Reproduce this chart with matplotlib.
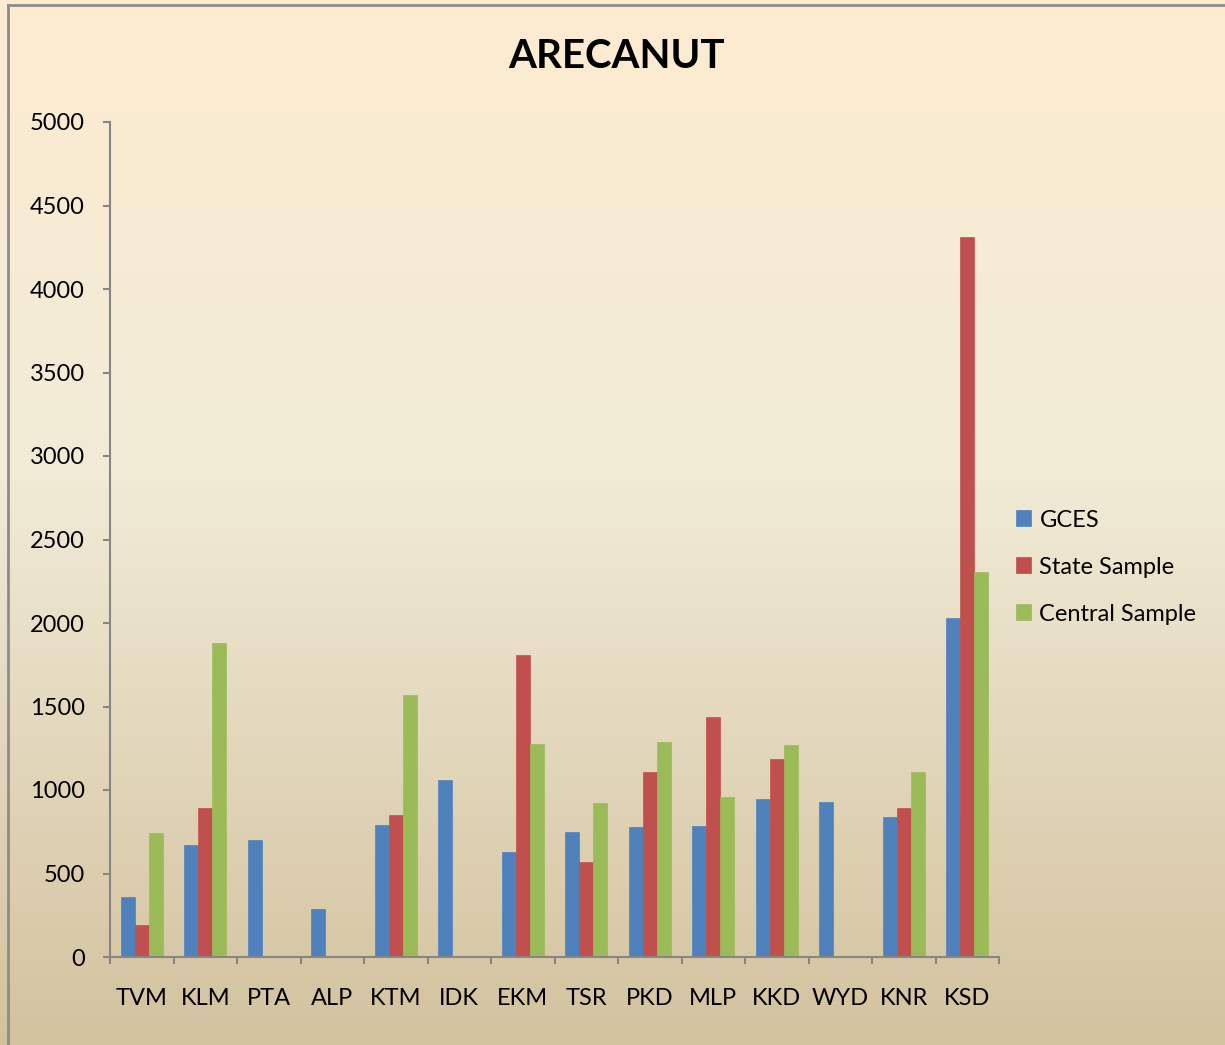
import matplotlib
matplotlib.use("Agg")
import matplotlib.pyplot as plt
import numpy as np
from matplotlib.colors import LinearSegmentedColormap

# district codes and the three series
districts = ["TVM", "KLM", "PTA", "ALP", "KTM", "IDK", "EKM",
             "TSR", "PKD", "MLP", "KKD", "WYD", "KNR", "KSD"]
gces = [360, 673, 699, 290, 791, 1061, 627, 751, 781, 785, 949, 929, 837, 2029]
state_sample = [190, 895, 0, 0, 849, 0, 1806, 566, 1109, 1436, 1186, 0, 895, 4312]
central_sample = [745, 1880, 0, 0, 1568, 0, 1274, 923, 1285, 957, 1268, 0, 1107, 2305]

series = [("GCES", gces, "#4F81BD"),
          ("State Sample", state_sample, "#C0504D"),
          ("Central Sample", central_sample, "#9BBB59")]

plt.rcParams['font.family'] = ['Lato', 'DejaVu Sans']

fig = plt.figure(figsize=(12.25, 10.45), dpi=100)

# background gradient: peach at top, pale cream in the middle, tan at bottom
bg = fig.add_axes([0, 0, 1, 1], zorder=0)
cmap = LinearSegmentedColormap.from_list(
    "bg", [(0.0, "#FDEBD0"), (0.45, "#F1EBD7"), (1.0, "#D3C29E")])
grad = np.linspace(0, 1, 256).reshape(-1, 1)
bg.imshow(grad, aspect="auto", cmap=cmap, extent=[0, 1, 0, 1], origin="upper")
bg.set_xlim(0, 1)
bg.set_ylim(0, 1)
bg.axis("off")
# outer frame, left and top edges visible
bg.plot([8 / 1225, 8 / 1225], [0, 1 - 5 / 1045], color="#8C8C8C", lw=2)
bg.plot([8 / 1225, 1], [1 - 5 / 1045, 1 - 5 / 1045], color="#8C8C8C", lw=2)

ax = fig.add_axes([110 / 1225, 1 - 957 / 1045, 889 / 1225, 835 / 1045], zorder=1)
ax.set_facecolor("none")

x = np.arange(len(districts))
w = 0.22
for i, (name, vals, col) in enumerate(series):
    ax.bar(x + (i - 1) * w, vals, width=w, color=col, label=name,
           edgecolor=col, linewidth=0.5)

ax.set_xlim(-0.5, len(districts) - 0.5)
ax.set_ylim(0, 5000)
ax.set_yticks(np.arange(0, 5001, 500))

# category boundaries get the tick marks, labels sit at the centres
ax.set_xticks(np.arange(-0.5, len(districts), 1.0))
ax.set_xticklabels([])
ax.set_xticks(x, minor=True)
ax.set_xticklabels(districts, minor=True)
ax.tick_params(axis="x", which="major", length=5, width=1.5, color="#868686")
ax.tick_params(axis="x", which="minor", length=0, pad=22, labelsize=17)
ax.tick_params(axis="y", length=5, width=1.5, color="#868686", pad=13, labelsize=17)

for s in ["top", "right"]:
    ax.spines[s].set_visible(False)
for s in ["left", "bottom"]:
    ax.spines[s].set_color("#868686")
    ax.spines[s].set_linewidth(1.5)

fig.text(617 / 1225, 1 - 56 / 1045, "ARECANUT", ha="center", va="center",
         fontsize=29, fontweight="bold")

ax.legend(loc="center left", bbox_to_anchor=(0.995, 0.467), frameon=False,
          fontsize=17, handlelength=0.65, handleheight=0.65, handletextpad=0.35,
          labelspacing=1.1)

fig.savefig("out.png", dpi=100)
